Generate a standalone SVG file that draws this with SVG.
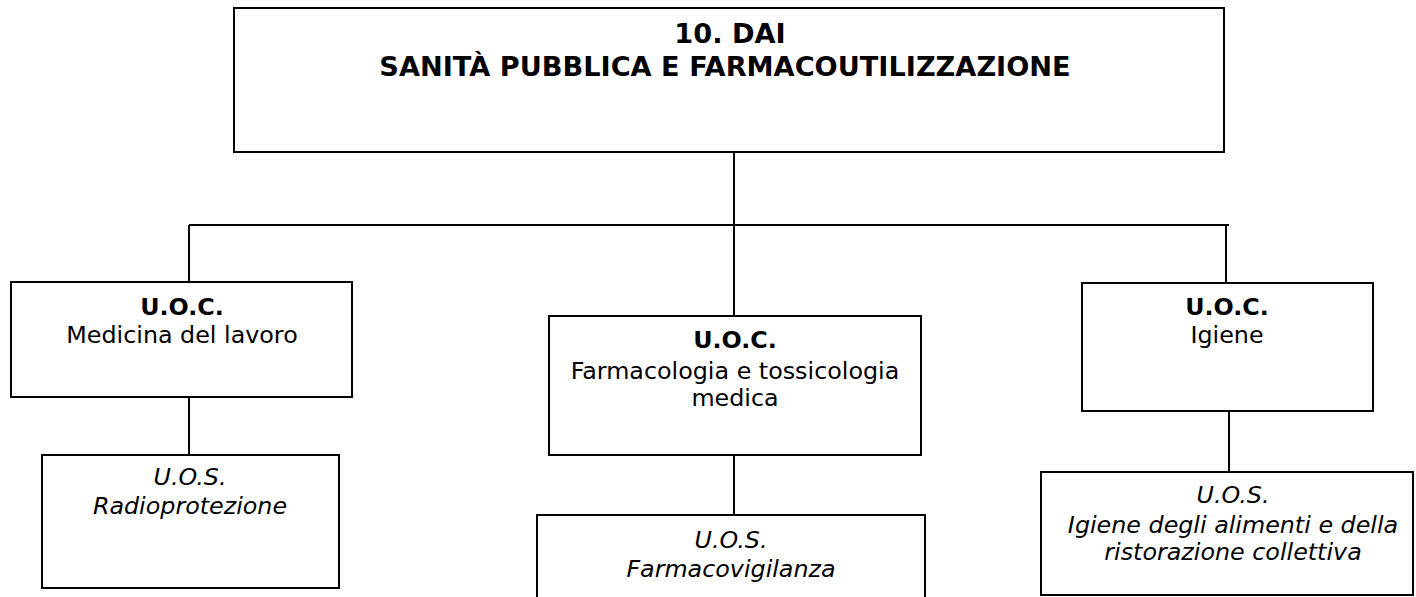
<svg xmlns="http://www.w3.org/2000/svg" width="1416" height="597" viewBox="0 0 1416 597">
<style>
.box{fill:#fff;stroke:#000;stroke-width:2}
.ln{stroke:#000;stroke-width:2;fill:none}
text{font-family:"DejaVu Sans","Liberation Sans",sans-serif;text-anchor:middle;fill:#000}
.t{font-size:27.2px;font-weight:bold}
.b{font-size:23.8px;font-weight:bold}
.r{font-size:23.8px}
.i{font-size:23.8px;font-style:italic}
</style>
<rect width="1416" height="597" fill="#fff"/>
<g id="connectors">
<line class="ln" x1="734" y1="152" x2="734" y2="316"/>
<line class="ln" x1="189" y1="225" x2="1229" y2="225"/>
<line class="ln" x1="189" y1="225" x2="189" y2="282"/>
<line class="ln" x1="1226" y1="225" x2="1226" y2="283"/>
<line class="ln" x1="189" y1="397" x2="189" y2="455"/>
<line class="ln" x1="734" y1="455" x2="734" y2="515"/>
<line class="ln" x1="1229" y1="411" x2="1229" y2="472"/>
</g>
<g id="dai">
<rect class="box" x="234" y="8" width="990" height="144"/>
<text class="t" x="730" y="43">10. DAI</text>
<text class="t" x="725" y="76">SANITÀ PUBBLICA E FARMACOUTILIZZAZIONE</text>
</g>
<g id="uoc-medicina">
<rect class="box" x="11" y="282" width="341" height="115"/>
<text class="b" x="182" y="315">U.O.C.</text>
<text class="r" x="182" y="343">Medicina del lavoro</text>
</g>
<g id="uoc-farmacologia">
<rect class="box" x="549" y="316" width="372" height="139"/>
<text class="b" x="735" y="348">U.O.C.</text>
<text class="r" x="735" y="379">Farmacologia e tossicologia</text>
<text class="r" x="735" y="406">medica</text>
</g>
<g id="uoc-igiene">
<rect class="box" x="1082" y="283" width="291" height="128"/>
<text class="b" x="1227" y="315">U.O.C.</text>
<text class="r" x="1227" y="343">Igiene</text>
</g>
<g id="uos-radioprotezione">
<rect class="box" x="42" y="455" width="297" height="133"/>
<text class="i" x="190" y="485">U.O.S.</text>
<text class="i" x="190" y="514">Radioprotezione</text>
</g>
<g id="uos-farmacovigilanza">
<rect class="box" x="537" y="515" width="388" height="100"/>
<text class="i" x="731" y="548">U.O.S.</text>
<text class="i" x="731" y="577">Farmacovigilanza</text>
</g>
<g id="uos-igiene-alimenti">
<rect class="box" x="1041" y="472" width="372" height="123"/>
<text class="i" x="1233" y="503">U.O.S.</text>
<text class="i" x="1233" y="533">Igiene degli alimenti e della</text>
<text class="i" x="1233" y="560">ristorazione collettiva</text>
</g>
</svg>
